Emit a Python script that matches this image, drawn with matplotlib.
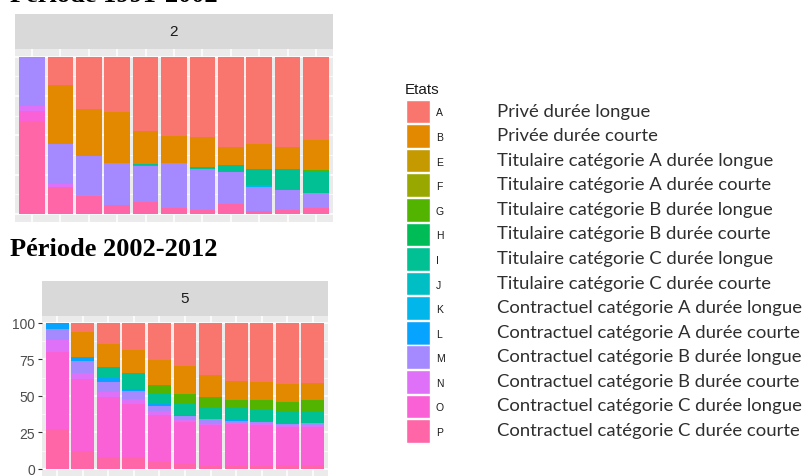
import matplotlib.pyplot as plt
from matplotlib.patches import Rectangle
import numpy as np

# etats (ordre de la legende) et libelles
etats = ['A', 'B', 'E', 'F', 'G', 'H', 'I', 'J', 'K', 'L', 'M', 'N', 'O', 'P']
libelles = ['Privé durée longue', 'Privée durée courte',
            'Titulaire catégorie A durée longue', 'Titulaire catégorie A durée courte',
            'Titulaire catégorie B durée longue', 'Titulaire catégorie B durée courte',
            'Titulaire catégorie C durée longue', 'Titulaire catégorie C durée courte',
            'Contractuel catégorie A durée longue', 'Contractuel catégorie A durée courte',
            'Contractuel catégorie B durée longue', 'Contractuel catégorie B durée courte',
            'Contractuel catégorie C durée longue', 'Contractuel catégorie C durée courte']
couleurs = ['#F8766D', '#E38900', '#C49A00', '#99A800', '#53B400', '#00BC56', '#00C094',
            '#00BFC4', '#00B6EB', '#06A4FF', '#A58AFF', '#DF70F8', '#FB61D7', '#FF66A8']

# Periode 1991-2002 (facette 2), % par etat
p1_A = [0, 18.0, 33.2, 35.1, 47.5, 50.3, 51.4, 57.2, 55.2, 57.2, 53.1]
p1_B = [0, 37.3, 29.8, 32.5, 20.8, 17.3, 19.1, 11.3, 15.8, 13.9, 19.3]
p1_G = [0, 0, 0, 0, 0, 0, 0, 0, 0, 0, 0.9]
p1_I = [0, 0, 0, 0, 0.6, 0, 1.1, 4.7, 10.7, 13.5, 13.3]
p1_K = [0, 0, 0, 0, 0.7, 0, 0, 0, 1.1, 0, 0]
p1_M = [31.5, 25.7, 24.8, 26.3, 22.9, 28.5, 25.7, 20.1, 15.2, 12.6, 9.9]
p1_N = [2.8, 1.7, 0.6, 0, 0, 0, 0, 0, 0, 0, 0]
p1_O = [6.4, 0, 0, 0, 0, 0, 0, 0, 0, 0, 0]
p1_P = [59.3, 17.3, 11.6, 6.0, 7.5, 3.9, 2.8, 6.6, 1.9, 2.8, 3.6]

# Periode 2002-2012 (facette 5)
p2_A = [0, 6.6, 14.2, 18.7, 25.6, 29.5, 35.8, 39.5, 40.4, 41.6, 41.6]
p2_B = [0, 16.7, 16.0, 15.3, 16.9, 18.9, 15.1, 13.2, 12.3, 12.3, 11.2]
p2_G = [0, 0, 0, 0.7, 5.5, 6.4, 6.8, 5.9, 6.6, 7.1, 8.0]
p2_I = [0, 1.1, 7.5, 10.7, 7.8, 8.0, 8.0, 7.8, 8.4, 8.0, 7.8]
p2_L = [4.6, 1.8, 2.7, 1.1, 1.1, 0.7, 0, 0.7, 0, 0, 0]
p2_M = [7.5, 7.8, 6.8, 5.3, 3.7, 3.2, 3.2, 1.4, 1.4, 1.1, 1.4]
p2_N = [7.8, 4.6, 3.4, 3.9, 2.7, 1.1, 0.7, 0.7, 0.9, 1.1, 1.4]
p2_O = [53.0, 49.3, 41.1, 36.1, 32.0, 29.0, 28.1, 28.5, 27.6, 25.8, 26.3]
p2_P = [27.2, 12.1, 8.2, 8.2, 4.8, 3.2, 2.3, 2.3, 2.3, 3.0, 2.5]

periode1 = {'A': p1_A, 'B': p1_B, 'G': p1_G, 'I': p1_I, 'K': p1_K,
            'M': p1_M, 'N': p1_N, 'O': p1_O, 'P': p1_P}
periode2 = {'A': p2_A, 'B': p2_B, 'G': p2_G, 'I': p2_I, 'L': p2_L,
            'M': p2_M, 'N': p2_N, 'O': p2_O, 'P': p2_P}

W, H = 803, 477
fig = plt.figure(figsize=(W / 100, H / 100), dpi=100)


def px_axes(x0, y0, x1, y1):
    return fig.add_axes([x0 / W, 1 - y1 / H, (x1 - x0) / W, (y1 - y0) / H])


def panel(ax, data, show_y):
    ax.set_facecolor('#EBEBEB')
    x = np.arange(1, 12)
    bas = np.zeros(11)
    # ggplot empile A en haut, P en bas
    for e, c in zip(etats[::-1], couleurs[::-1]):
        if e not in data:
            continue
        v = np.array(data[e])
        ax.bar(x, v, 0.9, bottom=bas, color=c, linewidth=0, zorder=2)
        bas += v
    ax.set_xlim(0.4, 11.6)
    ax.set_ylim(-5, 105)
    ax.set_xticks(x)
    ax.set_yticks([0, 25, 50, 75, 100])
    ax.set_yticks([12.5, 37.5, 62.5, 87.5], minor=True)
    ax.grid(which='major', color='white', lw=1.1, zorder=0)
    ax.grid(which='minor', axis='y', color='white', lw=0.5, zorder=0)
    ax.set_axisbelow(True)
    for s in ax.spines.values():
        s.set_visible(False)
    ax.tick_params(axis='x', length=0, labelbottom=False)
    ax.tick_params(axis='y', which='minor', length=0)
    if show_y:
        ax.tick_params(axis='y', which='major', length=3, width=0.8, color='#333333',
                       labelcolor='#4D4D4D', labelsize=10, pad=2)
        for t in ax.get_yticklabels():
            t.set_fontfamily('Liberation Sans')
    else:
        ax.tick_params(axis='y', length=0, labelleft=False)


def strip(ax, label):
    ax.set_facecolor('#D9D9D9')
    ax.set_xticks([])
    ax.set_yticks([])
    for s in ax.spines.values():
        s.set_visible(False)
    ax.text(0.5, 0.5, label, ha='center', va='center', fontsize=11,
            color='#1A1A1A', family='Liberation Sans', transform=ax.transAxes)


ax1 = px_axes(15, 50, 333, 222.8)
panel(ax1, periode1, False)
strip(px_axes(15, 15, 333, 50), '2')

ax2 = px_axes(42, 316.5, 328, 477.3)
panel(ax2, periode2, True)
strip(px_axes(42, 282, 328, 316.5), '5')

# le titre du haut est coupe par le bord de l'image, comme dans l'original
fig.text(10 / W, 1 - 1.8 / H, 'Période 1991-2002', family='Liberation Serif',
         weight='bold', fontsize=19, va='baseline')
fig.text(10 / W, 1 - 255.7 / H, 'Période 2002-2012', family='Liberation Serif',
         weight='bold', fontsize=19, va='baseline')

# legende
ov = fig.add_axes([0, 0, 1, 1], zorder=5)
ov.set_xlim(0, W)
ov.set_ylim(H, 0)
ov.axis('off')
ov.text(405, 89.5, 'Etats', fontsize=11, va='center', family='Liberation Sans', color='#1A1A1A')
for i, (e, lib, c) in enumerate(zip(etats, libelles, couleurs)):
    yc = 112.5 + i * 24.58
    ov.add_patch(Rectangle((406.5, yc - 11.8), 23.6, 23.6, facecolor=c, edgecolor='white', lw=1))
    ov.text(436, yc + 1, e, fontsize=7.5, va='center', family='Liberation Sans', color='#1A1A1A')
    ov.text(497, yc - 1, lib, fontsize=13.3, va='center', family='Lato', color='#2E2E2E')

fig.savefig('out.png', dpi=100)
